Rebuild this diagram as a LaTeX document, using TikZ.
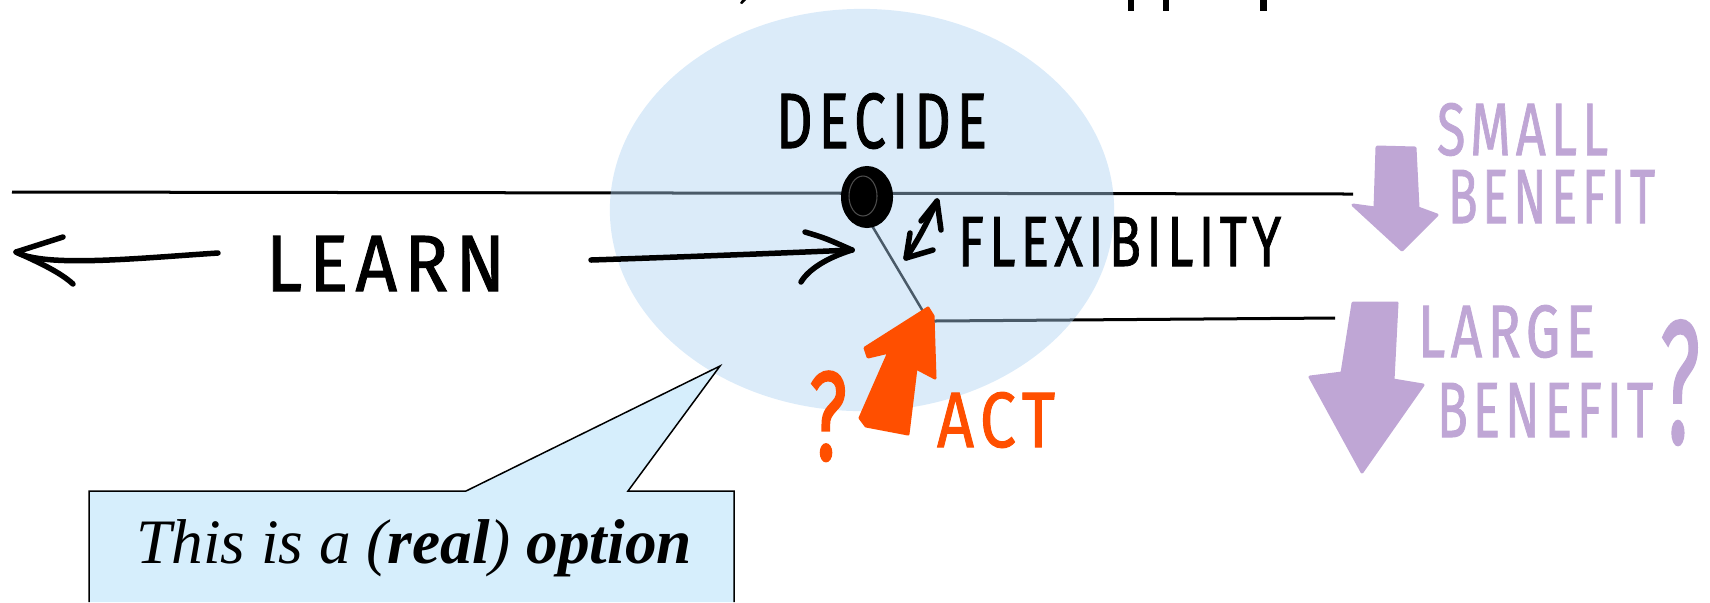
\documentclass[tikz,border=0pt]{standalone}
\usepackage{fontspec}
\setmainfont{Liberation Serif}
\newfontfamily\handfont[LetterSpace=10,FakeBold=1.3]{Fira Sans}
\usetikzlibrary{calc,shapes.geometric}

\definecolor{bubble}{RGB}{172,209,242}
\definecolor{callfill}{RGB}{214,238,252}
\definecolor{actorange}{RGB}{255,79,0}
\definecolor{benefit}{RGB}{191,166,213}

% hand-lettered label squeezed into a given box (width, height in mm)
\newcommand\handtext[3]{\resizebox{#1mm}{#2mm}{\handfont #3}}

\tikzset{
  rule/.style={line width=0.03cm, black},
  pen/.style={line width=0.055cm, black, line cap=round, line join=round},
  lbl/.style={anchor=north west, inner sep=0pt, outer sep=0pt},
}

\begin{document}
\begin{tikzpicture}[x=0.01cm, y=-0.01cm]
\useasboundingbox (0,0) rectangle (1710,602);

% cropped heading fragments along the top edge
\fill (1128,0) rectangle (1134,11);
\fill (1163,0) rectangle (1169,11);
\fill (1260,0) rectangle (1267,11);
\fill (746,0) -- (742,4) -- (740,3) -- (742,0) -- cycle;

% time lines: the main line and the branch after acting
\coordinate (tl0) at (12,192);
\coordinate (tl1) at (1353,194);
\coordinate (branch) at (871,224);
\coordinate (kink) at (924,313);
\coordinate (bl0) at (934,321);
\coordinate (bl1) at (1335,318);
\draw[rule] (tl0) -- (tl1);
\draw[rule, line width=0.025cm] (branch) -- (kink) -- (bl0);
\draw[rule] (bl0) -- (bl1);

% translucent bubble around the decision point
\fill[bubble, fill opacity=0.43] (862,210) ellipse [x radius=2.52cm, y radius=2.01cm];

% decision point
\node[fill=black, ellipse, minimum width=0.52cm, minimum height=0.62cm, inner sep=0] (dot) at (867,197) {};
\draw[white, line width=0.3pt, opacity=0.3] (863,196) ellipse [x radius=0.14cm, y radius=0.2cm];

% labels in black pen
\node[lbl] (decide) at (776,93) {\handtext{21.1}{5.5}{DECIDE}};
\node[lbl] (learn) at (266,236) {\handtext{23.9}{5.5}{LEARN}};
\node[lbl] (flex) at (958,217) {\handtext{32.3}{4.9}{FLEXIBILITY}};

% learn arrows
\coordinate (la0) at (218,253);
\coordinate (la1) at (16,252);
\draw[pen] (la0) .. controls (140,258) and (45,268) .. (la1);
\draw[pen] (63,237) -- (la1) .. controls (38,262) and (60,272) .. (73,284);

\coordinate (ra0) at (591,260);
\coordinate (ra1) at (852,250);
\draw[pen] (ra0) .. controls (680,257) and (760,254) .. (ra1);
\draw[pen] (805,232) .. controls (825,238) .. (ra1);
\draw[pen] (ra1) .. controls (826,258) and (808,270) .. (801,282);

% flexibility double arrow
\coordinate (fx0) at (937,201);
\coordinate (fx1) at (906,258);
\draw[pen] (fx0) .. controls (926,225) and (918,240) .. (fx1);
\draw[pen] (921,221) -- (fx0) -- (941,230);
\draw[pen] (910,233) -- (fx1) -- (933,250);

% act arrow and label
\fill[actorange, draw=actorange, line width=0.03cm, line join=round]
  (928,308) -- (865,348) -- (868,357) -- (889,352) -- (860,418) -- (866,426)
  -- (908,434) -- (916,368) -- (935,378) -- (933,316) -- cycle;
\node[lbl, text=actorange] (act) at (937,392) {\handtext{11.8}{5.5}{ACT}};
\node[lbl, text=actorange] (actq) at (809,371) {\handtext{3.8}{8.9}{?}};

% benefit arrows and labels
\fill[benefit, draw=benefit, line width=0.03cm, line join=round]
  (1377,147) -- (1415,148) -- (1418,208) -- (1437,215) -- (1402,250)
  -- (1353,205) -- (1375,208) -- cycle;
\fill[benefit, draw=benefit, line width=0.03cm, line join=round]
  (1353,303) -- (1397,303) -- (1393,380) -- (1423,385) -- (1362,472)
  -- (1310,377) -- (1342,373) -- cycle;
\node[lbl, text=benefit] (small) at (1437,103) {\handtext{17.1}{5.2}{SMALL}};
\node[lbl, text=benefit] (sben) at (1448,170) {\handtext{20.7}{5.3}{BENEFIT}};
\node[lbl, text=benefit] (large) at (1418,305) {\handtext{17.7}{5.2}{LARGE}};
\node[lbl, text=benefit] (lben) at (1437,383) {\handtext{21.6}{5.4}{BENEFIT}};
\node[lbl, text=benefit] (lq) at (1660,320) {\handtext{4.0}{12.3}{?}};

% callout
\coordinate (cbl) at (89,602);
\coordinate (ctl) at (89,491);
\coordinate (cp0) at (466,491);
\coordinate (ctip) at (720,366);
\coordinate (cp1) at (628,491);
\coordinate (ctr) at (734,491);
\coordinate (cbr) at (734,602);
\fill[callfill] (cbl) -- (ctl) -- (cp0) -- (ctip) -- (cp1) -- (ctr) -- (cbr) -- cycle;
\draw[line width=0.015cm, line join=miter] (cbl) -- (ctl) -- (cp0) -- (ctip) -- (cp1) -- (ctr) -- (cbr);
\node[anchor=base, inner sep=0, font=\fontsize{18pt}{21pt}\selectfont\itshape] (note) at (414,563)
  {This is a (\textbf{real}) \textbf{option}};
\end{tikzpicture}
\end{document}
